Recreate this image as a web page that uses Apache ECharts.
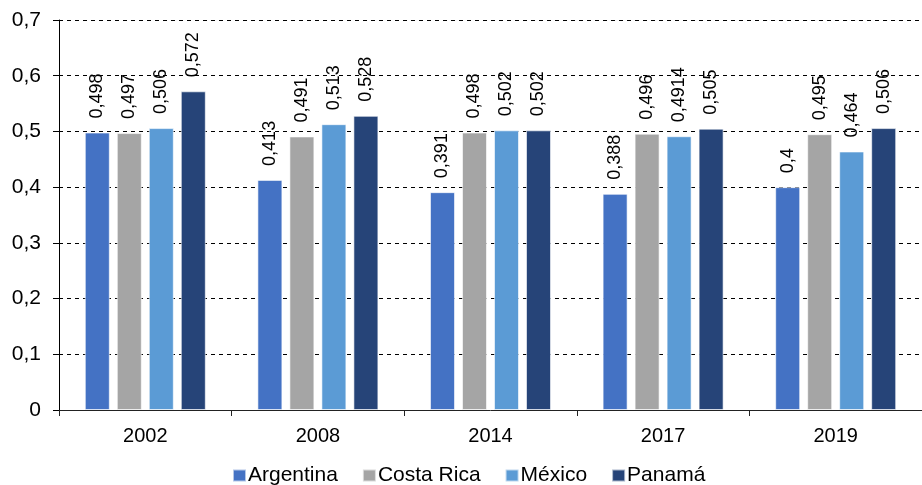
<!DOCTYPE html>
<html><head><meta charset="utf-8">
<script src="https://cdn.jsdelivr.net/npm/echarts@6/dist/echarts.min.js"></script>
<style>html,body{margin:0;padding:0;background:#fff}#c{width:922px;height:485px}</style>
</head><body><div id="c"></div>
<script>
const categories = ['2002','2008','2014','2017','2019'];
const argentina = [0.498, 0.413, 0.391, 0.388, 0.4];
const costaRica = [0.497, 0.491, 0.498, 0.496, 0.495];
const mexico = [0.506, 0.513, 0.502, 0.4914, 0.464];
const panama = [0.572, 0.528, 0.502, 0.505, 0.506];
const seriesNames = ['Argentina','Costa Rica','México','Panamá'];
const colors = ['#4472C4','#A5A5A5','#5B9BD5','#264478'];
const font = 'Liberation Sans, Arial, sans-serif';
const fmt = v => String(v).replace('.', ',');
const mk = (name, data, color) => ({
  name, type: 'bar', data, barWidth: 25,
  itemStyle: { color, borderColor: 'rgba(255,255,255,0.6)', borderWidth: 1 },
  label: { show: true, position: 'top', rotate: 90, align: 'left', verticalAlign: 'middle', distance: 14,
    fontFamily: font, fontSize: 18, color: '#000', formatter: p => fmt(p.value) }
});
const chart = echarts.init(document.getElementById('c'));
chart.setOption({
  animation: false,
  color: colors,
  grid: { left: 59, right: -8, top: 20, bottom: 75, containLabel: false },
  legend: { left: 232, top: 465, padding: 0, itemWidth: 13, itemHeight: 12, itemGap: 24,
    icon: 'rect', textStyle: { fontFamily: font, fontSize: 21, color: '#000', padding: [0,0,0,-3] }, data: seriesNames },
  xAxis: { type: 'category', data: categories,
    axisLine: { lineStyle: { color: '#222', width: 1 } },
    axisTick: { show: true, length: 6, lineStyle: { color: '#222' } },
    axisLabel: { fontFamily: font, fontSize: 20, color: '#000', margin: 16 } },
  yAxis: { type: 'value', min: 0, max: 0.7, interval: 0.1,
    axisLine: { show: true, lineStyle: { color: '#000' } },
    axisTick: { show: true, length: 6, lineStyle: { color: '#000' } },
    splitLine: { lineStyle: { color: '#000', type: [4,4], width: 1 } },
    axisLabel: { fontFamily: font, fontSize: 21, color: '#000', margin: 18, formatter: v => fmt(Math.round(v*10)/10) } },
  series: [
    Object.assign(mk(seriesNames[0], argentina, colors[0]), { barGap: '28%' }),
    mk(seriesNames[1], costaRica, colors[1]),
    mk(seriesNames[2], mexico, colors[2]),
    mk(seriesNames[3], panama, colors[3])
  ]
});
</script></body></html>
